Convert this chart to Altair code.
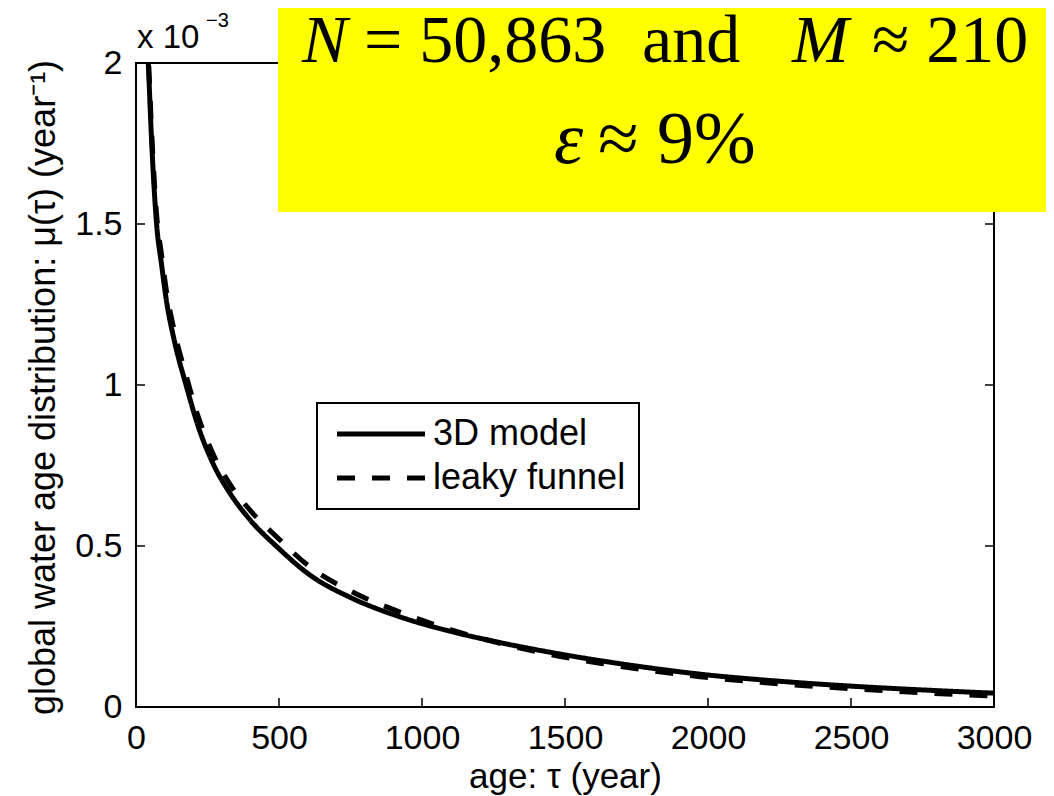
import altair as alt
import pandas as pd

# ---- data (mu in units of 1e-3 year^-1) ----
age = [38, 43, 55, 72, 90, 105, 136, 175, 220, 270, 330, 400, 490, 608, 750,
       923, 1100, 1273, 1448, 1622, 1800, 1972, 2250, 2497, 2750, 3000]
mu_3d = [2.10, 2.00, 1.75, 1.50, 1.37, 1.27, 1.13, 1.00, 0.865, 0.755, 0.662,
         0.58, 0.50, 0.41, 0.34, 0.28, 0.235, 0.200, 0.170, 0.144, 0.121, 0.102,
         0.080, 0.065, 0.053, 0.043]
mu_funnel = [2.10, 2.02, 1.78, 1.53, 1.40, 1.30, 1.16, 1.03, 0.895, 0.785,
             0.69, 0.61, 0.53, 0.435, 0.36, 0.295, 0.24, 0.198, 0.163, 0.136,
             0.113, 0.094, 0.072, 0.057, 0.044, 0.034]
series = ["3D model", "leaky funnel"]
x_ticks = [0, 500, 1000, 1500, 2000, 2500, 3000]
y_ticks = [0, 0.5, 1, 1.5, 2]
x_title = "age: τ (year)"
y_title = "global water age distribution: μ(τ) (year⁻¹)"
line1 = ["N", "= 50,863", "and", "M", "≈ 210"]
line2 = ["ε", "≈ 9%"]
multiplier = ["x 10", "−3"]

W, H = 858, 644
SANS = "Liberation Sans"
SERIF = "Liberation Serif"

n = len(age)
df = pd.DataFrame({
    "age": age * 2,
    "mu": mu_3d + mu_funnel,
    "series": [series[0]] * n + [series[1]] * n,
})

xscale = alt.Scale(domain=[0, 3000], nice=False, zero=False)
yscale = alt.Scale(domain=[0, 2], nice=False, zero=False)

lines = alt.Chart(df).mark_line(color="black", strokeWidth=5, clip=True,
                                interpolate="monotone").encode(
    x=alt.X("age:Q", scale=xscale,
            axis=alt.Axis(values=x_ticks, title=x_title, format="d",
                          labelFlush=False,
                          titleX=W / 2, titleY=80, titleBaseline="alphabetic",
                          labelPadding=41, labelBaseline="alphabetic")),
    y=alt.Y("mu:Q", scale=yscale,
            axis=alt.Axis(values=y_ticks, title=y_title, format="~g",
                          labelFlush=False, titleFontSize=36,
                          titleAngle=270, titleX=-82, titleY=324,
                          titleAlign="center", titleBaseline="alphabetic",
                          labelPadding=14, labelBaseline="middle")),
    strokeDash=alt.StrokeDash(
        "series:N",
        scale=alt.Scale(domain=series, range=[[1, 0], [18, 17]]),
        legend=alt.Legend(title=None, orient="none", legendX=181, legendY=340,
                          fillColor="white", strokeColor="black", padding=13,
                          symbolType="M-1,0H7", symbolSize=484,
                          symbolStrokeWidth=5, symbolStrokeColor="black",
                          labelFont=SANS, labelFontSize=36, labelColor="black",
                          labelOffset=67, rowPadding=8, labelLimit=400),
    ),
)

xt = pd.DataFrame({"age": x_ticks})
yt = pd.DataFrame({"mu": y_ticks})
tick_style = dict(color="black", strokeWidth=1.5)
bottom_ticks = alt.Chart(xt).mark_rule(**tick_style).encode(
    x=alt.X("age:Q", scale=xscale), y=alt.value(H), y2=alt.value(H - 9))
top_ticks = alt.Chart(xt).mark_rule(**tick_style).encode(
    x=alt.X("age:Q", scale=xscale), y=alt.value(0), y2=alt.value(9))
left_ticks = alt.Chart(yt).mark_rule(**tick_style).encode(
    y=alt.Y("mu:Q", scale=yscale), x=alt.value(0), x2=alt.value(9))
right_ticks = alt.Chart(yt).mark_rule(**tick_style).encode(
    y=alt.Y("mu:Q", scale=yscale), x=alt.value(W), x2=alt.value(W - 9))

dummy = pd.DataFrame({"k": [0]})
yellow = alt.Chart(dummy).mark_rect(color="#ffff00").encode(
    x=alt.value(142), x2=alt.value(920), y=alt.value(-60), y2=alt.value(149))


def txt(s, x, y, font, size, style="normal"):
    return alt.Chart(dummy).mark_text(
        text=s, font=font, fontSize=size, fontStyle=style, align="left",
        baseline="alphabetic", color="black").encode(
        x=alt.value(x), y=alt.value(y))


annot = [
    txt(line1[0], 166, -1, SERIF, 68, "italic"),
    txt(line1[1], 228, -1, SERIF, 68),
    txt(line1[2], 506, -1, SERIF, 68),
    txt(line1[3], 656, -1, SERIF, 68, "italic"),
    txt(line1[4], 736, -1, SERIF, 68),
    txt(line2[0], 418, 100, SERIF, 74, "italic"),
    txt(line2[1], 462, 100, SERIF, 74),
    txt(multiplier[0], 1, -15, SANS, 33),
    txt(multiplier[1], 70, -36, SANS, 20),
]

chart = alt.layer(lines, bottom_ticks, top_ticks, left_ticks, right_ticks,
                  yellow, *annot).properties(
    width=W, height=H, autosize="none",
    padding={"left": 128, "top": 55, "right": 52, "bottom": 89},
    background="white",
).configure_view(stroke="black", strokeWidth=2).configure_axis(
    domain=False, grid=False, ticks=False, tickSize=0,
    labelFont=SANS, labelFontSize=34, labelColor="black",
    titleFont=SANS, titleFontSize=35, titleFontWeight="normal", titleColor="black",
).configure_legend(strokeWidth=2)

chart.save("out.html", embed_options={"renderer": "svg", "actions": False})
